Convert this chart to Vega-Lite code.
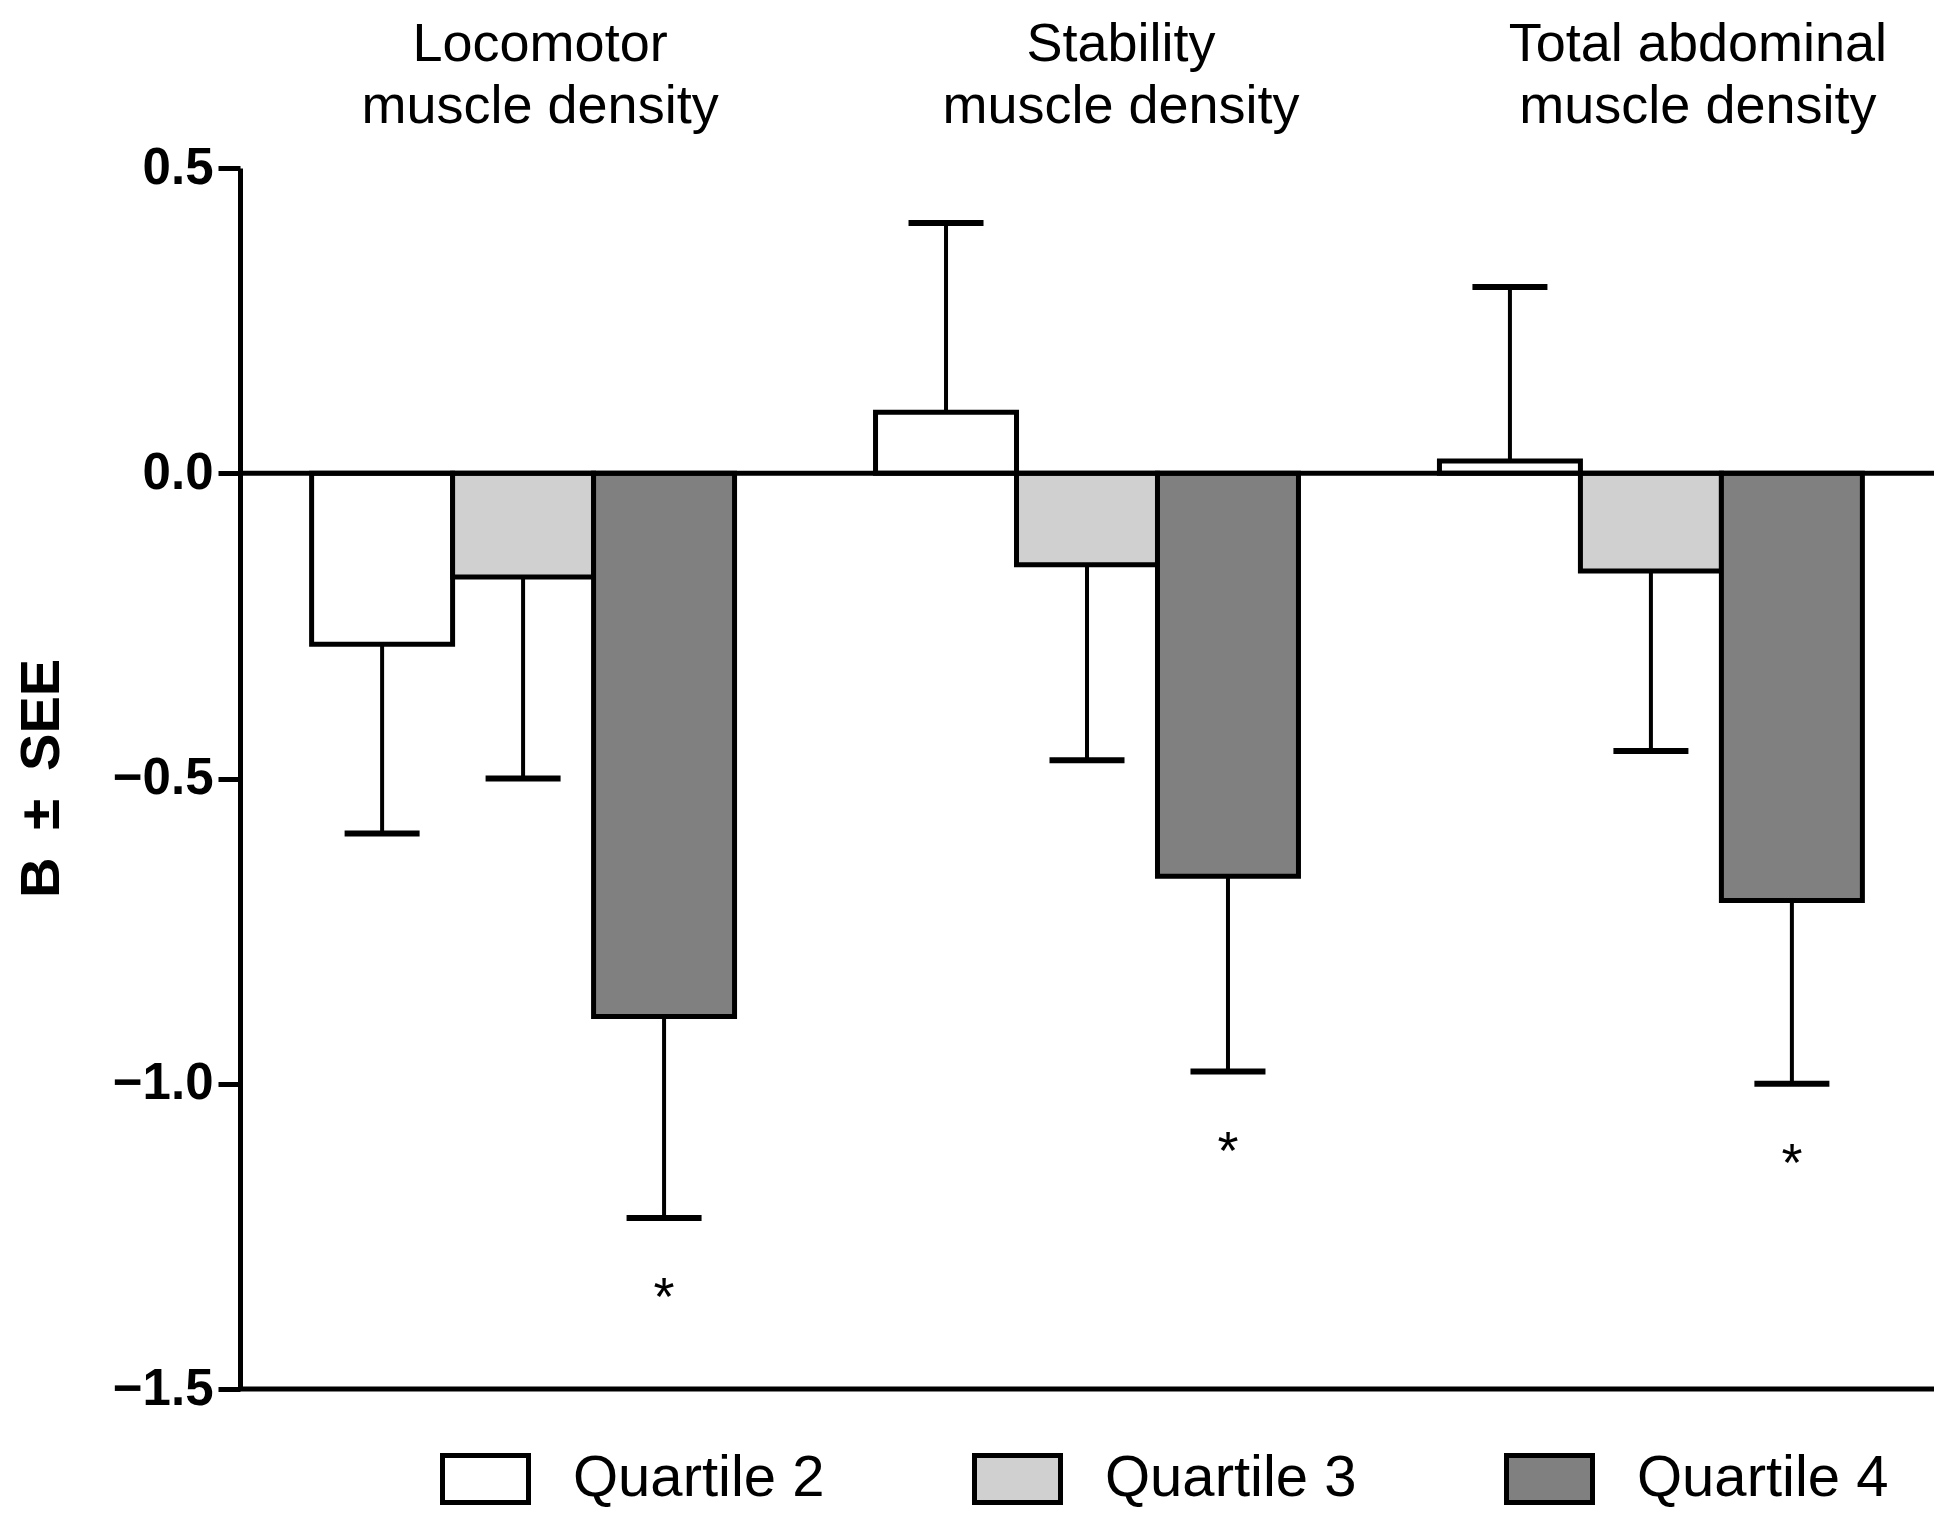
{
  "$schema": "https://vega.github.io/schema/vega-lite/v6.json",
  "width": 1694,
  "height": 1221,
  "autosize": {"type": "none"},
  "padding": {"left": 240, "top": 168, "right": 16, "bottom": 125},
  "background": "white",
  "config": {"view": {"stroke": null}, "font": "Liberation Sans"},
  "data": {
    "values": [
      {"group": "Locomotor", "quartile": "Quartile 2", "b": -0.28, "err": -0.59, "sig": null, "star": null},
      {"group": "Locomotor", "quartile": "Quartile 3", "b": -0.17, "err": -0.50, "sig": null, "star": null},
      {"group": "Locomotor", "quartile": "Quartile 4", "b": -0.89, "err": -1.22, "sig": "*", "star": -1.34},
      {"group": "Stability", "quartile": "Quartile 2", "b": 0.10, "err": 0.41, "sig": null, "star": null},
      {"group": "Stability", "quartile": "Quartile 3", "b": -0.15, "err": -0.47, "sig": null, "star": null},
      {"group": "Stability", "quartile": "Quartile 4", "b": -0.66, "err": -0.98, "sig": "*", "star": -1.10},
      {"group": "Total abdominal", "quartile": "Quartile 2", "b": 0.02, "err": 0.305, "sig": null, "star": null},
      {"group": "Total abdominal", "quartile": "Quartile 3", "b": -0.16, "err": -0.455, "sig": null, "star": null},
      {"group": "Total abdominal", "quartile": "Quartile 4", "b": -0.70, "err": -1.00, "sig": "*", "star": -1.12}
    ]
  },
  "layer": [
    {
      "mark": {"type": "rule", "strokeWidth": 4, "color": "black"},
      "encoding": {
        "x": {"field": "group", "type": "nominal", "sort": ["Locomotor", "Stability", "Total abdominal"], "scale": {"paddingInner": 0.25, "paddingOuter": 0.127}},
        "xOffset": {"field": "quartile", "type": "nominal", "sort": ["Quartile 2", "Quartile 3", "Quartile 4"], "scale": {"paddingInner": 0, "paddingOuter": 0}},
        "y": {"field": "b", "type": "quantitative", "title": "B\u2002±\u2002SEE"},
        "y2": {"field": "err"}
      }
    },
    {
      "mark": {"type": "tick", "thickness": 6, "size": 75, "color": "black", "opacity": 1},
      "encoding": {
        "x": {"field": "group", "type": "nominal", "sort": ["Locomotor", "Stability", "Total abdominal"]},
        "xOffset": {"field": "quartile", "type": "nominal", "sort": ["Quartile 2", "Quartile 3", "Quartile 4"]},
        "y": {"field": "err", "type": "quantitative", "title": "B\u2002±\u2002SEE"}
      }
    },
    {
      "mark": {"type": "bar", "stroke": "black", "strokeWidth": 5, "opacity": 1},
      "encoding": {
        "x": {
          "field": "group", "type": "nominal", "sort": ["Locomotor", "Stability", "Total abdominal"],
          "axis": {
            "orient": "top", "title": null, "domain": false, "ticks": false, "labelAngle": 0, "labelLimit": 0,
            "labelFontSize": 54, "labelColor": "black", "labelExpr": "[datum.label, 'muscle density']",
            "labelLineHeight": 62, "labelPadding": 97, "labelAlign": "center", "labelBaseline": "bottom",
            "labelOffset": {"expr": "datum.value === 'Locomotor' ? 17 : datum.value === 'Stability' ? 34 : 47"}
          }
        },
        "xOffset": {"field": "quartile", "type": "nominal", "sort": ["Quartile 2", "Quartile 3", "Quartile 4"]},
        "y": {
          "field": "b", "type": "quantitative", "title": "B\u2002±\u2002SEE",
          "scale": {"domain": [-1.5, 0.5], "nice": false, "zero": false},
          "axis": {
            "values": [0.5, 0, -0.5, -1, -1.5], "format": ".1f", "grid": false, "labelLimit": 0,
            "labelFontSize": 51, "labelFontWeight": "bold", "labelColor": "black", "labelPadding": 5,
            "domainColor": "black", "domainWidth": 5, "tickColor": "black", "tickWidth": 5, "tickSize": 22,
            "titleFontSize": 56, "titleFontWeight": "bold", "titleColor": "black", "titleLimit": 0,
            "titleX": -199, "titleY": 610, "titleAngle": -90, "titleAlign": "center", "titleBaseline": "middle"
          }
        },
        "fill": {
          "field": "quartile", "type": "nominal", "sort": ["Quartile 2", "Quartile 3", "Quartile 4"],
          "scale": {"domain": ["Quartile 2", "Quartile 3", "Quartile 4"], "range": ["#ffffff", "#d0d0d0", "#808080"]},
          "legend": {
            "orient": "none", "legendX": 200, "legendY": 1265, "direction": "horizontal", "title": null,
            "symbolType": "M-1,-0.547H1V0.547H-1Z", "symbolSize": 7396, "symbolStrokeColor": "black", "symbolStrokeWidth": 5,
            "symbolOpacity": 1, "labelFontSize": 58, "labelColor": "black", "labelOffset": 42, "labelLimit": 0, "columnPadding": 139, "padding": 0
          }
        }
      }
    },
    {
      "mark": {"type": "text", "fontSize": 54, "color": "black", "baseline": "middle", "dy": 8},
      "transform": [{"filter": "datum.star != null"}],
      "encoding": {
        "x": {"field": "group", "type": "nominal", "sort": ["Locomotor", "Stability", "Total abdominal"]},
        "xOffset": {"field": "quartile", "type": "nominal", "sort": ["Quartile 2", "Quartile 3", "Quartile 4"]},
        "y": {"field": "star", "type": "quantitative", "title": "B\u2002±\u2002SEE"},
        "text": {"field": "sig"}
      }
    },
    {
      "data": {"values": [{"v": 0}, {"v": -1.5}]},
      "mark": {"type": "rule", "strokeWidth": 5, "color": "black"},
      "encoding": {
        "y": {"field": "v", "type": "quantitative", "title": "B\u2002±\u2002SEE"}
      }
    }
  ]
}
